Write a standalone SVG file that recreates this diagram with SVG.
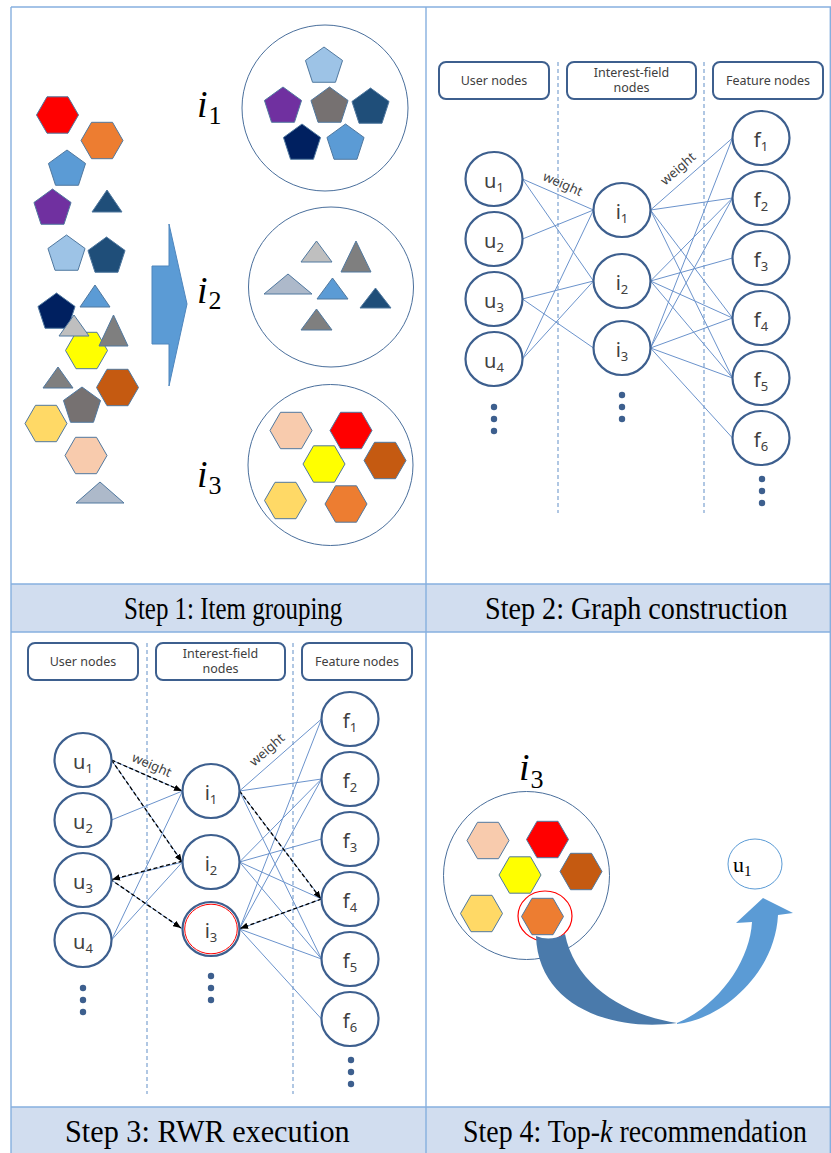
<svg xmlns="http://www.w3.org/2000/svg" xmlns:xlink="http://www.w3.org/1999/xlink" width="831" height="1153" viewBox="0 0 831 1153">
<defs>
  <style>
    .frame{stroke:#86afdf;stroke-width:1.4;fill:none}
    .band{fill:#d1ddef}
    .cap{font-family:"Liberation Serif","Times New Roman",serif;font-size:32px;fill:#000}
    .sh{stroke:#50789f;stroke-width:1}
    .grp{fill:#fff;stroke:#4a6f9c;stroke-width:1}
    .lbl{font-family:"Liberation Serif","Times New Roman",serif;font-style:italic;font-size:38px;fill:#000}
    .sub{font-style:normal;font-size:26px}
    .box{fill:#fff;stroke:#3d5f8e;stroke-width:2}
    .boxt{font-family:"Noto Sans","DejaVu Sans",sans-serif;font-size:12.5px;fill:#404040;text-anchor:middle}
    .sep{stroke:#8fb0d8;stroke-width:1.4;stroke-dasharray:4 3}
    .node{fill:#fff;stroke:#3d5f8e;stroke-width:2.2}
    .nt{font-family:"Noto Sans","DejaVu Sans",sans-serif;font-size:20px;fill:#404040;text-anchor:middle}
    .ns{font-size:13px}
    .edge{stroke:#6b93cc;stroke-width:1;fill:none}
    .wt{font-family:"Noto Sans","DejaVu Sans",sans-serif;font-size:13px;fill:#404040;text-anchor:middle}
    .dot{fill:#3d5f8e}
    .walk{stroke:#000;stroke-width:1.3;stroke-dasharray:4 2.5;fill:none;marker-end:url(#ah)}
  </style>
  <path id="hex" d="M21,0 L10.5,18.2 L-10.5,18.2 L-21,0 L-10.5,-18.2 L10.5,-18.2Z"/>
  <path id="pent" d="M0,-19.5 L18.55,-6.03 L11.46,15.78 L-11.46,15.78 L-18.55,-6.03Z"/>
  <marker id="ah" viewBox="0 0 10 8" refX="10" refY="4" markerWidth="8" markerHeight="6.5" markerUnits="userSpaceOnUse" orient="auto">
    <path d="M0,0 L10,4 L0,8Z" fill="#000"/>
  </marker>
</defs>

<rect width="831" height="1153" fill="#fff"/>

<!-- caption bands and frame -->
<rect class="band" x="11" y="584" width="820" height="48"/>
<rect class="band" x="11" y="1107" width="820" height="46"/>
<g class="frame">
  <line x1="11" y1="7" x2="831" y2="7"/>
  <line x1="11" y1="7" x2="11" y2="1153"/>
  <line x1="426" y1="7" x2="426" y2="1153"/>
  <line x1="830.3" y1="7" x2="830.3" y2="1153"/>
  <line x1="11" y1="584" x2="831" y2="584"/>
  <line x1="11" y1="632" x2="831" y2="632"/>
  <line x1="11" y1="1107" x2="831" y2="1107"/>
</g>
<!-- captions: tall, horizontally condensed serif -->
<text class="cap" transform="translate(124,619) scale(0.78,1)">Step 1: Item grouping</text>
<text class="cap" transform="translate(485,619) scale(0.88,1)">Step 2: Graph construction</text>
<text class="cap" transform="translate(65,1142) scale(0.945,1)">Step 3: RWR execution</text>
<text class="cap" transform="translate(463,1142) scale(0.872,1)">Step 4: Top-<tspan font-style="italic">k</tspan> recommendation</text>

<!-- Step 1: loose items -->
<g id="items" class="sh">
  <use xlink:href="#hex" x="57.5" y="115" fill="#ff0000"/>
  <use xlink:href="#hex" x="102" y="140.5" fill="#ed7d31"/>
  <use xlink:href="#hex" x="86.5" y="350.5" fill="#ffff00"/>
  <use xlink:href="#hex" x="117.5" y="387.5" fill="#c55a11"/>
  <use xlink:href="#hex" x="46" y="423.5" fill="#ffd966"/>
  <use xlink:href="#hex" x="86" y="455.5" fill="#f8cbad"/>
  <use xlink:href="#pent" x="67" y="169.5" fill="#5b9bd5"/>
  <use xlink:href="#pent" x="52.5" y="208.5" fill="#7030a0"/>
  <use xlink:href="#pent" x="66.5" y="254.5" fill="#9dc3e6"/>
  <use xlink:href="#pent" x="106.5" y="256.5" fill="#1f4e79"/>
  <use xlink:href="#pent" x="56.5" y="312.5" fill="#002060"/>
  <use xlink:href="#pent" x="82" y="406.5" fill="#767171"/>
  <polygon points="92,212 107,190 122,212" fill="#1f4e79"/>
  <polygon points="80,307 95,285 110,307" fill="#5b9bd5"/>
  <polygon points="59,336 74,315 89,336" fill="#bfbfbf"/>
  <polygon points="99,346 113.5,315 128,346" fill="#7f7f7f"/>
  <polygon points="43,388 58,367 73,388" fill="#7f7f7f"/>
  <polygon points="76,503 100,482 124,503" fill="#adb9ca"/>
</g>

<!-- Step 1: grouping arrow -->
<path id="group-arrow" d="M152,266 L169,266 L169,224 L187,304 L169,386 L169,344 L152,344Z" fill="#5b9bd5" stroke="#4f86bd" stroke-width="1"/>

<!-- Step 1: group i1 (pentagons) -->
<g id="group-i1">
  <text class="lbl" x="197" y="117">i<tspan class="sub" dx="1" dy="7">1</tspan></text>
  <circle class="grp" cx="325" cy="108" r="83"/>
  <g class="sh">
    <use xlink:href="#pent" x="324" y="66.5" fill="#9dc3e6"/>
    <use xlink:href="#pent" x="283" y="106.5" fill="#7030a0"/>
    <use xlink:href="#pent" x="329.5" y="106.5" fill="#767171"/>
    <use xlink:href="#pent" x="370.5" y="107.5" fill="#1f4e79"/>
    <use xlink:href="#pent" x="302" y="143.5" fill="#002060"/>
    <use xlink:href="#pent" x="345.5" y="143.5" fill="#5b9bd5"/>
  </g>
</g>

<!-- Step 1: group i2 (triangles) -->
<g id="group-i2">
  <text class="lbl" x="197" y="303">i<tspan class="sub" dx="1" dy="6">2</tspan></text>
  <ellipse class="grp" cx="331" cy="287" rx="82.5" ry="80"/>
  <g class="sh">
    <polygon points="301,262 316.5,241 332,262" fill="#bfbfbf"/>
    <polygon points="341,272 356,241 371,272" fill="#7f7f7f"/>
    <polygon points="264,294 288,274 312,294" fill="#adb9ca"/>
    <polygon points="317,299 332.5,278 348,299" fill="#5b9bd5"/>
    <polygon points="360,308 375.5,288 391,308" fill="#1f4e79"/>
    <polygon points="301,330 316.5,309 332,330" fill="#7f7f7f"/>
  </g>
</g>

<!-- Step 1: group i3 (hexagons) -->
<g id="group-i3">
  <text class="lbl" x="197" y="487">i<tspan class="sub" dx="1" dy="7">3</tspan></text>
  <ellipse class="grp" cx="330.5" cy="465" rx="82.5" ry="80.5"/>
  <g class="sh">
    <use xlink:href="#hex" x="291" y="430.5" fill="#f8cbad"/>
    <use xlink:href="#hex" x="351" y="430.5" fill="#ff0000"/>
    <use xlink:href="#hex" x="324" y="464" fill="#ffff00"/>
    <use xlink:href="#hex" x="385" y="460.5" fill="#c55a11"/>
    <use xlink:href="#hex" x="285.5" y="500.5" fill="#ffd966"/>
    <use xlink:href="#hex" x="346" y="504" fill="#ed7d31"/>
  </g>
</g>

<!-- Step 2: tripartite graph -->
<g id="step2">
  <g id="s2-headers">
    <rect class="box" x="439" y="62" width="110" height="37" rx="7"/>
    <text class="boxt" x="494" y="85">User nodes</text>
    <rect class="box" x="567" y="62" width="129" height="37" rx="7"/>
    <text class="boxt" x="631.5" y="77">Interest-field</text>
    <text class="boxt" x="631.5" y="92">nodes</text>
    <rect class="box" x="713" y="62" width="110" height="37" rx="7"/>
    <text class="boxt" x="768" y="85">Feature nodes</text>
    <line class="sep" x1="558" y1="62" x2="558" y2="513"/>
    <line class="sep" x1="704" y1="62" x2="704" y2="513"/>
  </g>
  <g id="s2-edges" class="edge">
    <line x1="522.5" y1="179" x2="593.5" y2="210"/>
    <line x1="522.5" y1="179" x2="593.5" y2="281"/>
    <line x1="522.5" y1="239" x2="593.5" y2="210"/>
    <line x1="522.5" y1="299" x2="593.5" y2="281"/>
    <line x1="522.5" y1="299" x2="593.5" y2="348"/>
    <line x1="522.5" y1="359" x2="593.5" y2="210"/>
    <line x1="522.5" y1="359" x2="593.5" y2="281"/>
    <line x1="650.5" y1="210" x2="732.5" y2="138"/>
    <line x1="650.5" y1="210" x2="732.5" y2="198"/>
    <line x1="650.5" y1="210" x2="732.5" y2="318"/>
    <line x1="650.5" y1="210" x2="732.5" y2="378"/>
    <line x1="650.5" y1="281" x2="732.5" y2="198"/>
    <line x1="650.5" y1="281" x2="732.5" y2="258"/>
    <line x1="650.5" y1="281" x2="732.5" y2="318"/>
    <line x1="650.5" y1="281" x2="732.5" y2="378"/>
    <line x1="650.5" y1="348" x2="732.5" y2="138"/>
    <line x1="650.5" y1="348" x2="732.5" y2="198"/>
    <line x1="650.5" y1="348" x2="732.5" y2="318"/>
    <line x1="650.5" y1="348" x2="732.5" y2="378"/>
    <line x1="650.5" y1="348" x2="732.5" y2="438"/>
  </g>
  <text class="wt" transform="translate(561,188) rotate(23.6)">weight</text>
  <text class="wt" transform="translate(681,172) rotate(-41.3)">weight</text>
  <g id="s2-u1"><ellipse class="node" cx="494" cy="179" rx="28.5" ry="27"/><text class="nt" x="494" y="188">u<tspan class="ns" dy="4">1</tspan></text></g>
  <g id="s2-u2"><ellipse class="node" cx="494" cy="239" rx="28.5" ry="27"/><text class="nt" x="494" y="248">u<tspan class="ns" dy="4">2</tspan></text></g>
  <g id="s2-u3"><ellipse class="node" cx="494" cy="299" rx="28.5" ry="27"/><text class="nt" x="494" y="308">u<tspan class="ns" dy="4">3</tspan></text></g>
  <g id="s2-u4"><ellipse class="node" cx="494" cy="359" rx="28.5" ry="27"/><text class="nt" x="494" y="368">u<tspan class="ns" dy="4">4</tspan></text></g>
  <g id="s2-i1"><ellipse class="node" cx="622" cy="210" rx="28.5" ry="27"/><text class="nt" x="622" y="219">i<tspan class="ns" dy="4">1</tspan></text></g>
  <g id="s2-i2"><ellipse class="node" cx="622" cy="281" rx="28.5" ry="27"/><text class="nt" x="622" y="290">i<tspan class="ns" dy="4">2</tspan></text></g>
  <g id="s2-i3"><ellipse class="node" cx="622" cy="348" rx="28.5" ry="27"/><text class="nt" x="622" y="357">i<tspan class="ns" dy="4">3</tspan></text></g>
  <g id="s2-f1"><ellipse class="node" cx="761" cy="138" rx="28.5" ry="27"/><text class="nt" x="761" y="147">f<tspan class="ns" dy="4">1</tspan></text></g>
  <g id="s2-f2"><ellipse class="node" cx="761" cy="198" rx="28.5" ry="27"/><text class="nt" x="761" y="207">f<tspan class="ns" dy="4">2</tspan></text></g>
  <g id="s2-f3"><ellipse class="node" cx="761" cy="258" rx="28.5" ry="27"/><text class="nt" x="761" y="267">f<tspan class="ns" dy="4">3</tspan></text></g>
  <g id="s2-f4"><ellipse class="node" cx="761" cy="318" rx="28.5" ry="27"/><text class="nt" x="761" y="327">f<tspan class="ns" dy="4">4</tspan></text></g>
  <g id="s2-f5"><ellipse class="node" cx="761" cy="378" rx="28.5" ry="27"/><text class="nt" x="761" y="387">f<tspan class="ns" dy="4">5</tspan></text></g>
  <g id="s2-f6"><ellipse class="node" cx="761" cy="438" rx="28.5" ry="27"/><text class="nt" x="761" y="447">f<tspan class="ns" dy="4">6</tspan></text></g>
  <g id="s2-more" class="dot">
    <circle cx="494" cy="407" r="3.2"/><circle cx="494" cy="419" r="3.2"/><circle cx="494" cy="431" r="3.2"/>
    <circle cx="622" cy="395" r="3.2"/><circle cx="622" cy="407" r="3.2"/><circle cx="622" cy="419" r="3.2"/>
    <circle cx="762" cy="479" r="3.2"/><circle cx="762" cy="491" r="3.2"/><circle cx="762" cy="503" r="3.2"/>
  </g>
</g>

<!-- Step 3: same graph with the random walk drawn over it -->
<g id="step3" transform="translate(-411,581)">
  <g id="s3-headers">
    <rect class="box" x="439" y="62" width="110" height="37" rx="7"/>
    <text class="boxt" x="494" y="85">User nodes</text>
    <rect class="box" x="567" y="62" width="129" height="37" rx="7"/>
    <text class="boxt" x="631.5" y="77">Interest-field</text>
    <text class="boxt" x="631.5" y="92">nodes</text>
    <rect class="box" x="713" y="62" width="110" height="37" rx="7"/>
    <text class="boxt" x="768" y="85">Feature nodes</text>
    <line class="sep" x1="558" y1="62" x2="558" y2="513"/>
    <line class="sep" x1="704" y1="62" x2="704" y2="513"/>
  </g>
  <g id="s3-edges" class="edge">
    <line x1="522.5" y1="179" x2="593.5" y2="210"/>
    <line x1="522.5" y1="179" x2="593.5" y2="281"/>
    <line x1="522.5" y1="239" x2="593.5" y2="210"/>
    <line x1="522.5" y1="299" x2="593.5" y2="281"/>
    <line x1="522.5" y1="299" x2="593.5" y2="348"/>
    <line x1="522.5" y1="359" x2="593.5" y2="210"/>
    <line x1="522.5" y1="359" x2="593.5" y2="281"/>
    <line x1="650.5" y1="210" x2="732.5" y2="138"/>
    <line x1="650.5" y1="210" x2="732.5" y2="198"/>
    <line x1="650.5" y1="210" x2="732.5" y2="318"/>
    <line x1="650.5" y1="210" x2="732.5" y2="378"/>
    <line x1="650.5" y1="281" x2="732.5" y2="198"/>
    <line x1="650.5" y1="281" x2="732.5" y2="258"/>
    <line x1="650.5" y1="281" x2="732.5" y2="318"/>
    <line x1="650.5" y1="281" x2="732.5" y2="378"/>
    <line x1="650.5" y1="348" x2="732.5" y2="138"/>
    <line x1="650.5" y1="348" x2="732.5" y2="198"/>
    <line x1="650.5" y1="348" x2="732.5" y2="318"/>
    <line x1="650.5" y1="348" x2="732.5" y2="378"/>
    <line x1="650.5" y1="348" x2="732.5" y2="438"/>
  </g>
  <g id="s3-walk">
    <line class="walk" x1="522.5" y1="179" x2="593" y2="210"/>
    <line class="walk" x1="522.5" y1="179" x2="593" y2="281"/>
    <line class="walk" x1="593.5" y1="280" x2="523" y2="298.5"/>
    <line class="walk" x1="521" y1="298" x2="592" y2="347"/>
    <line class="walk" x1="650.5" y1="210" x2="732" y2="318"/>
    <line class="walk" x1="732.5" y1="318" x2="651" y2="347.5"/>
  </g>
  <text class="wt" transform="translate(561,188) rotate(23.6)">weight</text>
  <text class="wt" transform="translate(681,172) rotate(-41.3)">weight</text>
  <g id="s3-u1"><ellipse class="node" cx="494" cy="179" rx="28.5" ry="27"/><text class="nt" x="494" y="188">u<tspan class="ns" dy="4">1</tspan></text></g>
  <g id="s3-u2"><ellipse class="node" cx="494" cy="239" rx="28.5" ry="27"/><text class="nt" x="494" y="248">u<tspan class="ns" dy="4">2</tspan></text></g>
  <g id="s3-u3"><ellipse class="node" cx="494" cy="299" rx="28.5" ry="27"/><text class="nt" x="494" y="308">u<tspan class="ns" dy="4">3</tspan></text></g>
  <g id="s3-u4"><ellipse class="node" cx="494" cy="359" rx="28.5" ry="27"/><text class="nt" x="494" y="368">u<tspan class="ns" dy="4">4</tspan></text></g>
  <g id="s3-i1"><ellipse class="node" cx="622" cy="210" rx="28.5" ry="27"/><text class="nt" x="622" y="219">i<tspan class="ns" dy="4">1</tspan></text></g>
  <g id="s3-i2"><ellipse class="node" cx="622" cy="281" rx="28.5" ry="27"/><text class="nt" x="622" y="290">i<tspan class="ns" dy="4">2</tspan></text></g>
  <g id="s3-i3"><ellipse class="node" cx="622" cy="348" rx="28.5" ry="27"/><ellipse cx="622" cy="348" rx="26.3" ry="24.8" fill="none" stroke="#ff0000" stroke-width="1"/><text class="nt" x="622" y="357">i<tspan class="ns" dy="4">3</tspan></text></g>
  <g id="s3-f1"><ellipse class="node" cx="761" cy="138" rx="28.5" ry="27"/><text class="nt" x="761" y="147">f<tspan class="ns" dy="4">1</tspan></text></g>
  <g id="s3-f2"><ellipse class="node" cx="761" cy="198" rx="28.5" ry="27"/><text class="nt" x="761" y="207">f<tspan class="ns" dy="4">2</tspan></text></g>
  <g id="s3-f3"><ellipse class="node" cx="761" cy="258" rx="28.5" ry="27"/><text class="nt" x="761" y="267">f<tspan class="ns" dy="4">3</tspan></text></g>
  <g id="s3-f4"><ellipse class="node" cx="761" cy="318" rx="28.5" ry="27"/><text class="nt" x="761" y="327">f<tspan class="ns" dy="4">4</tspan></text></g>
  <g id="s3-f5"><ellipse class="node" cx="761" cy="378" rx="28.5" ry="27"/><text class="nt" x="761" y="387">f<tspan class="ns" dy="4">5</tspan></text></g>
  <g id="s3-f6"><ellipse class="node" cx="761" cy="438" rx="28.5" ry="27"/><text class="nt" x="761" y="447">f<tspan class="ns" dy="4">6</tspan></text></g>
  <g id="s3-more" class="dot">
    <circle cx="494" cy="407" r="3.2"/><circle cx="494" cy="419" r="3.2"/><circle cx="494" cy="431" r="3.2"/>
    <circle cx="622" cy="395" r="3.2"/><circle cx="622" cy="407" r="3.2"/><circle cx="622" cy="419" r="3.2"/>
    <circle cx="762" cy="479" r="3.2"/><circle cx="762" cy="491" r="3.2"/><circle cx="762" cy="503" r="3.2"/>
  </g>
</g>

<!-- Step 4: recommending an item of i3 to u1 -->
<g id="s4-group">
  <text class="lbl" x="519" y="780">i<tspan class="sub" dx="1" dy="8">3</tspan></text>
  <ellipse class="grp" cx="526.5" cy="875.5" rx="83" ry="84"/>
  <g class="sh">
    <use xlink:href="#hex" x="488" y="840.5" fill="#f8cbad"/>
    <use xlink:href="#hex" x="547.5" y="839.5" fill="#ff0000"/>
    <use xlink:href="#hex" x="520" y="875" fill="#ffff00"/>
    <use xlink:href="#hex" x="581" y="871.5" fill="#c55a11"/>
    <use xlink:href="#hex" x="481.5" y="913.5" fill="#ffd966"/>
    <use xlink:href="#hex" x="542.5" y="916.5" fill="#ed7d31"/>
  </g>
  <ellipse cx="545" cy="916" rx="27" ry="25" fill="none" stroke="#ff0000" stroke-width="1.2"/>
</g>
<g id="s4-arrow">
  <path d="M536,936 Q550,942 565,934 C575,985 625,1015 677,1023 C610,1032 538,1005 536,936Z" fill="#4a7aab"/>
  <path d="M677,1024 C720,1020 775,975 778,915 L793,913 L763,898 L736,923 L752,922 C750,960 720,1005 677,1023Z" fill="#5b9bd5"/>
</g>
<g id="s4-u1">
  <ellipse cx="755" cy="864" rx="27" ry="25" fill="#fff" stroke="#5b9bd5" stroke-width="1"/>
  <text x="733" y="872" font-family="Liberation Serif,Times New Roman,serif" font-size="22" fill="#000">u<tspan font-size="15" dy="4">1</tspan></text>
</g>
</svg>
